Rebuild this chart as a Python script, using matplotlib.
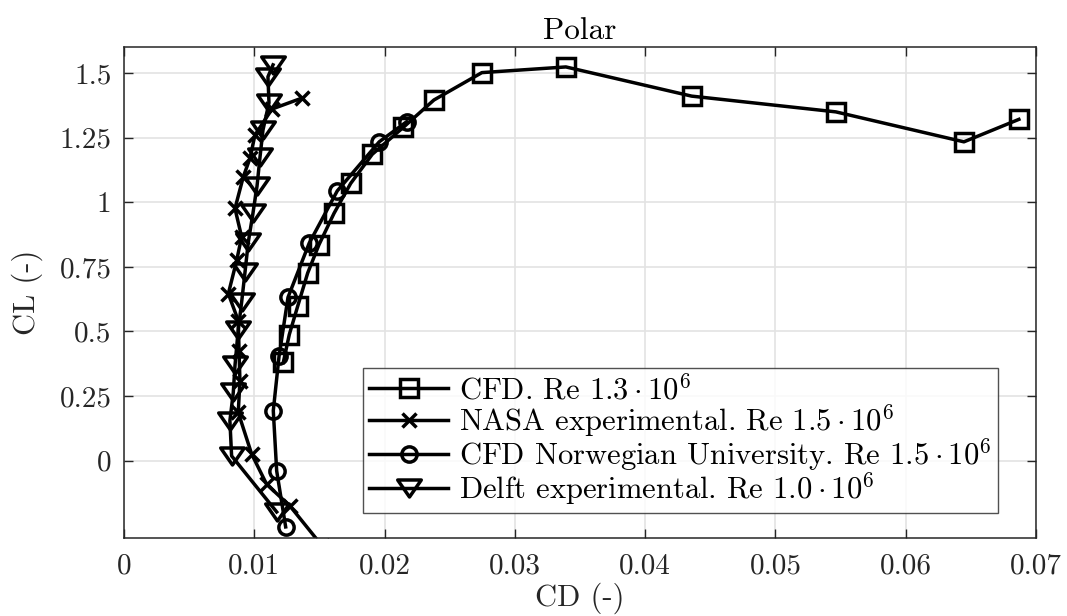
import numpy as np
import matplotlib
matplotlib.use("Agg")
import matplotlib.pyplot as plt
from matplotlib.path import Path

plt.rcParams["font.family"] = "serif"
plt.rcParams["font.serif"] = ["cmr10", "DejaVu Serif"]
plt.rcParams["mathtext.fontset"] = "cm"
plt.rcParams["axes.formatter.use_mathtext"] = True

# CFD, Re 1.3e6
cfd_cd = [0.01223, 0.01269, 0.01333, 0.01410, 0.01497, 0.01612, 0.01740, 0.01906,
          0.02144, 0.02379, 0.02747, 0.03392, 0.04357, 0.05464, 0.06447, 0.06869]
cfd_cl = [0.380, 0.488, 0.597, 0.726, 0.836, 0.957, 1.073, 1.186,
          1.290, 1.396, 1.502, 1.524, 1.411, 1.350, 1.234, 1.321]

# NASA experimental, Re 1.5e6
nasa_cd = [0.01364, 0.01136, 0.01005, 0.00967, 0.00916, 0.00852, 0.00903, 0.00865,
           0.00801, 0.00877, 0.00883, 0.00890, 0.00877, 0.00980, 0.01095, 0.01274, 0.01520]
nasa_cl = [1.403, 1.361, 1.260, 1.170, 1.099, 0.976, 0.866, 0.775,
           0.646, 0.542, 0.426, 0.309, 0.186, 0.025, -0.092, -0.176, -0.330]

# CFD Norwegian University, Re 1.5e6
ntnu_cd = [0.01241, 0.01172, 0.01146, 0.01190, 0.01259, 0.01422, 0.01637, 0.01959, 0.02170]
ntnu_cl = [-0.257, -0.040, 0.193, 0.403, 0.632, 0.842, 1.044, 1.234, 1.312]

# Delft experimental, Re 1.0e6
delft_cd = [0.01144, 0.01105, 0.01113, 0.01067, 0.01044, 0.01021, 0.00990, 0.00954,
            0.00929, 0.00903, 0.00877, 0.00852, 0.00839, 0.00813, 0.00826, 0.01172]
delft_cl = [1.532, 1.486, 1.385, 1.280, 1.175, 1.062, 0.958, 0.845,
            0.730, 0.613, 0.507, 0.368, 0.264, 0.154, 0.018, -0.199]

labels = [r"CFD. Re $1.3\cdot10^6$",
          r"NASA experimental. Re $1.5\cdot10^6$",
          r"CFD Norwegian University. Re $1.5\cdot10^6$",
          r"Delft experimental. Re $1.0\cdot10^6$"]

xticks = [0, 0.01, 0.02, 0.03, 0.04, 0.05, 0.06, 0.07]
xticklabels = ["0", "0.01", "0.02", "0.03", "0.04", "0.05", "0.06", "0.07"]
yticks = [0, 0.25, 0.5, 0.75, 1.0, 1.25, 1.5]
yticklabels = ["0", "0.25", "0.5", "0.75", "1", "1.25", "1.5"]

# wide, flat downward triangle
tri_down = Path([(-1, 0.72), (1, 0.72), (0, -0.72), (-1, 0.72)],
                [Path.MOVETO, Path.LINETO, Path.LINETO, Path.CLOSEPOLY])

fig = plt.figure(figsize=(10.67, 6.16), dpi=100)
ax = fig.add_axes([0.1162, 0.1266, 0.8547, 0.7966])

lw = 2.5
mew = 2.5
common = dict(color="black", lw=lw, mfc="none", mec="black", mew=mew)
ax.plot(cfd_cd, cfd_cl, marker="s", ms=13.5, label=labels[0], **common)
ax.plot(nasa_cd, nasa_cl, marker="x", ms=10.5, label=labels[1], **common)
ax.plot(ntnu_cd, ntnu_cl, marker="o", ms=11, label=labels[2], **common)
ax.plot(delft_cd, delft_cl, marker=tri_down, ms=17, label=labels[3], **common)

ax.set_xlim(0, 0.07)
ax.set_ylim(-0.3, 1.6)
ax.set_xticks(xticks)
ax.set_xticklabels(xticklabels)
ax.set_yticks(yticks)
ax.set_yticklabels(yticklabels)

ax.grid(True, color="#e3e3e3", lw=1.2)
ax.set_axisbelow(True)
for s in ax.spines.values():
    s.set_color("#262626")
    s.set_linewidth(1.1)
ax.tick_params(direction="in", length=6.5, width=1.0, colors="#262626",
               labelsize=21, top=True, right=True)
ax.tick_params(axis="x", pad=11)
ax.tick_params(axis="y", pad=9)

ax.set_xlabel("CD (-)", fontsize=22, color="#262626", labelpad=2)
ax.set_ylabel("CL (-)", fontsize=22, color="#262626", labelpad=12)
ax.set_title("Polar", fontsize=22.5, color="black", pad=6)

leg = ax.legend(loc="lower left", bbox_to_anchor=(0.262, 0.051), fontsize=22,
                frameon=True, fancybox=False, edgecolor="#262626",
                handlelength=2.6, handletextpad=0.35, borderpad=0.2,
                labelspacing=-0.1, borderaxespad=0)
leg.get_frame().set_linewidth(1.0)

fig.savefig("out.png", dpi=100)
